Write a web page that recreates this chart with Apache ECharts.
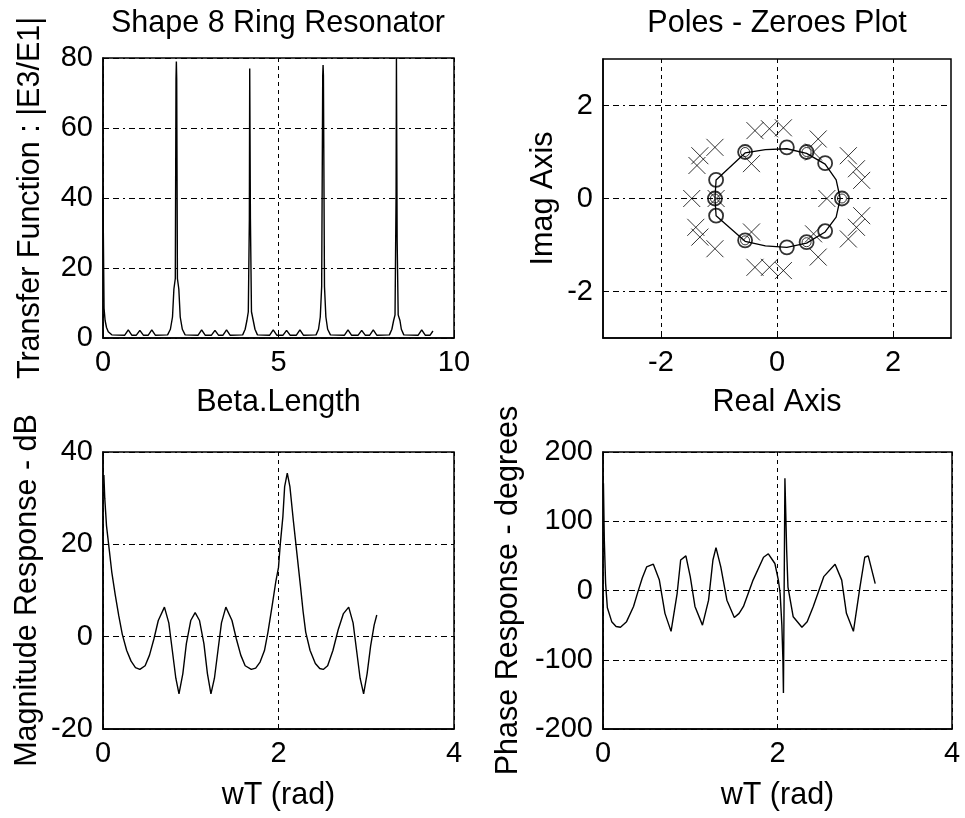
<!DOCTYPE html>
<html>
<head>
<meta charset="utf-8">
<script src="https://cdn.jsdelivr.net/npm/echarts@6/dist/echarts.min.js"></script>
<style>
  html, body { margin: 0; padding: 0; background: #fff; }
  #chart { width: 965px; height: 818px; }
</style>
</head>
<body>
<div id="chart"></div>
<script>
// transfer function |E3/E1| vs beta.length
var transferPts = [
  [0, 40], [0.02, 40], [0.03, 8.5], [0.06, 5], [0.1, 3], [0.15, 1.8], [0.25, 0.9],
  [0.62, 0.8], [0.72, 2.3], [0.82, 0.8], [0.95, 0.8], [1.05, 2.2], [1.15, 0.8], [1.29, 0.8], [1.39, 2.3], [1.49, 0.8],
  [1.84, 0.9], [1.92, 2.5], [1.98, 6], [2.02, 14], [2.06, 17], [2.08, 74], [2.09, 79], [2.1, 74], [2.12, 17], [2.16, 14], [2.2, 6], [2.26, 2.5], [2.34, 0.9],
  [2.71, 0.8], [2.81, 2.3], [2.91, 0.8], [3.09, 0.8], [3.19, 2.2], [3.29, 0.8], [3.42, 0.8], [3.52, 2.3], [3.62, 0.8],
  [3.98, 0.9], [4.05, 2.5], [4.1, 5], [4.14, 7.5], [4.17, 34], [4.18, 77], [4.19, 77], [4.2, 34], [4.23, 7.5], [4.28, 5], [4.33, 2.5], [4.4, 0.9],
  [4.75, 0.8], [4.85, 2.3], [4.95, 0.8], [5.13, 0.8], [5.23, 2.2], [5.33, 0.8], [5.51, 0.8], [5.61, 2.3], [5.71, 0.8],
  [6.07, 0.9], [6.14, 2.5], [6.19, 6], [6.23, 14.7], [6.26, 75], [6.27, 78], [6.28, 75], [6.31, 14.7], [6.35, 6], [6.4, 2.5], [6.48, 0.9],
  [6.88, 0.8], [6.98, 2.3], [7.08, 0.8], [7.27, 0.8], [7.37, 2.2], [7.47, 0.8], [7.6, 0.8], [7.7, 2.3], [7.8, 0.8],
  [8.16, 0.9], [8.23, 2.5], [8.28, 5], [8.32, 6.6], [8.35, 41], [8.36, 80], [8.37, 80], [8.38, 28], [8.41, 6.6], [8.46, 5], [8.5, 2.5], [8.57, 0.9],
  [8.98, 0.8], [9.08, 2.3], [9.18, 0.8], [9.32, 0.8], [9.4, 2]
];

// poles (x) and zeroes (o) in the z-plane
var polePts = [
  [-0.38, 1.46], [-0.13, 1.5], [0.11, 1.52], [0.71, 1.28], [-1.07, 1.1], [-1.33, 0.92], [-1.38, 0.71],
  [-0.44, 0.75], [1.23, 0.92], [1.37, 0.64], [1.46, 0.39], [0.63, 1.0],
  [-1.47, 0], [0.86, 0], [-1.05, 0],
  [-0.38, -1.48], [-0.13, -1.48], [0.11, -1.55], [0.71, -1.26], [-1.07, -1.08], [-1.33, -0.83], [-1.4, -0.62],
  [-0.44, -0.72], [1.23, -0.87], [1.37, -0.62], [1.46, -0.37], [0.63, -0.76]
];
var zeroPts = [
  [-0.55, 1.0], [-1.05, 0.4], [-1.07, 0], [-1.05, -0.37], [-0.55, -0.9], [0.17, -1.05],
  [0.51, -0.94], [0.83, -0.7], [1.12, 0], [0.83, 0.76], [0.51, 1.0], [0.17, 1.1]
];
var doubleZeroPts = [
  [-0.55, 1.0], [-1.07, 0], [-0.55, -0.9], [0.51, -0.94], [1.12, 0], [0.51, 1.0]
];
var circlePts = [
  [1.09, 0], [1.02, 0.4], [0.83, 0.74], [0.51, 0.97], [0.17, 1.07], [-0.2, 1.05], [-0.55, 0.98],
  [-1.05, 0.4], [-1.07, 0], [-1.05, -0.37], [-0.55, -0.92], [-0.2, -1.02], [0.17, -1.05],
  [0.51, -0.96], [0.83, -0.72], [1.02, -0.4], [1.09, 0]
];

// magnitude response (dB) vs wT
var magPts = [
  [0.01, 35], [0.02, 30], [0.04, 24], [0.07, 19], [0.1, 14], [0.14, 9], [0.18, 4.5], [0.22, 0.5],
  [0.27, -3], [0.32, -5.3], [0.37, -6.7], [0.42, -7.1], [0.48, -6.3], [0.53, -4], [0.58, -0.5], [0.63, 3.5],
  [0.7, 6.4], [0.75, 3], [0.79, -3], [0.83, -9], [0.866, -12.4], [0.91, -8], [0.95, -1.5], [1.0, 3.5],
  [1.05, 5.2], [1.1, 3.5], [1.15, -1.5], [1.19, -8], [1.23, -12.4], [1.27, -9], [1.31, -3], [1.35, 3],
  [1.4, 6.4], [1.47, 3.5], [1.52, -0.5], [1.57, -4], [1.62, -6.3], [1.69, -7.1], [1.74, -6.8], [1.79, -5.5],
  [1.84, -3], [1.88, 1], [1.93, 7], [1.97, 12], [2.0, 15], [2.02, 20], [2.05, 26], [2.07, 32.5],
  [2.1, 35.4], [2.13, 32.5], [2.17, 25], [2.21, 18], [2.25, 11], [2.28, 5.5], [2.31, 1], [2.36, -3],
  [2.42, -5.8], [2.47, -6.9], [2.51, -7.1], [2.56, -6.3], [2.62, -3], [2.68, 1.5], [2.74, 5], [2.8, 6.4],
  [2.85, 3], [2.89, -3], [2.93, -9], [2.97, -12.4], [3.01, -8], [3.05, -2], [3.09, 2.5], [3.12, 4.7]
];

// phase response (degrees) vs wT
var phasePts = [
  [0.005, 155], [0.015, 73], [0.03, 10], [0.05, -25], [0.1, -45], [0.15, -52], [0.2, -53],
  [0.27, -45], [0.35, -23], [0.4, -2], [0.45, 18], [0.5, 34], [0.577, 38],
  [0.646, 15], [0.71, -33], [0.78, -59], [0.85, -4], [0.89, 44], [0.95, 50],
  [1.0, 20], [1.054, -23], [1.14, -50], [1.21, -14], [1.26, 44], [1.295, 62],
  [1.35, 34], [1.42, -14], [1.505, -39], [1.56, -33], [1.61, -23], [1.72, 15], [1.84, 48], [1.895, 53],
  [1.97, 39], [2.01, 15], [2.03, -4], [2.05, -50], [2.062, -100], [2.068, -148], [2.085, 162],
  [2.095, 110], [2.105, 58], [2.12, 5], [2.18, -38], [2.28, -53],
  [2.34, -45], [2.41, -23], [2.53, 20], [2.66, 38], [2.736, 15], [2.79, -33], [2.87, -59],
  [2.945, 5], [3.0, 48], [3.04, 50], [3.12, 10]
];

var FONT = '"Liberation Sans", Arial, sans-serif';
var FS = 29;     // tick labels
var NFS = 30.5;  // titles and axis names

function makeAxis(gridIndex, min, max, interval, name, nameGap, dash, custom) {
  var ax = {
    gridIndex: gridIndex,
    type: 'value',
    min: min,
    max: max,
    name: name,
    nameLocation: 'middle',
    nameGap: nameGap,
    nameTextStyle: { color: '#000', fontSize: NFS, fontFamily: FONT },
    axisLine: { show: true, onZero: false, lineStyle: { color: '#000', width: 1.5 } },
    axisTick: { show: true, inside: true, length: 5, lineStyle: { color: '#000', width: 1 } },
    axisLabel: { color: '#000', fontSize: FS, fontFamily: FONT, margin: 10 },
    splitLine: { show: true, lineStyle: { color: '#000', width: 1, type: dash } }
  };
  if (custom) {
    ax.axisTick.customValues = custom;
    ax.axisLabel.customValues = custom;
  } else {
    ax.interval = interval;
  }
  return ax;
}

var HDASH = [6, 4, 6, 4, 2, 4];
var VDASH = [4, 4];

var option = {
  backgroundColor: '#fff',
  animation: false,
  graphic: [
    { type: 'text', x: 278, y: 24, style: { text: 'Shape 8 Ring Resonator', fill: '#000', font: NFS + 'px ' + FONT, align: 'center', verticalAlign: 'middle' } },
    { type: 'text', x: 777, y: 24, style: { text: 'Poles - Zeroes Plot', fill: '#000', font: NFS + 'px ' + FONT, align: 'center', verticalAlign: 'middle' } }
  ],
  grid: [
    { left: 103, top: 58, width: 351, height: 280, show: true, borderColor: '#000', borderWidth: 1.5 },
    { left: 603, top: 59, width: 348, height: 279, show: true, borderColor: '#000', borderWidth: 1.5 },
    { left: 103, top: 452, width: 351, height: 277, show: true, borderColor: '#000', borderWidth: 1.5 },
    { left: 603, top: 452, width: 349, height: 277, show: true, borderColor: '#000', borderWidth: 1.5 }
  ],
  xAxis: [
    makeAxis(0, 0, 10, 5, 'Beta.Length', 49, VDASH),
    makeAxis(1, -3, 3, null, 'Real Axis', 49, VDASH, [-2, 0, 2]),
    makeAxis(2, 0, 4, 2, 'wT (rad)', 51, VDASH),
    makeAxis(3, 0, 4, 2, 'wT (rad)', 51, VDASH)
  ],
  yAxis: [
    makeAxis(0, 0, 80, 20, 'Transfer Function : |E3/E1|', 57, HDASH),
    makeAxis(1, -3, 3, null, 'Imag Axis', 44, HDASH, [-2, 0, 2]),
    makeAxis(2, -20, 40, 20, 'Magnitude Response - dB', 60, HDASH),
    makeAxis(3, -200, 200, 100, 'Phase Response - degrees', 79, HDASH)
  ],
  series: [
    {
      type: 'line', xAxisIndex: 0, yAxisIndex: 0, data: transferPts,
      showSymbol: false, lineStyle: { color: '#000', width: 1.4 }
    },
    {
      type: 'line', xAxisIndex: 1, yAxisIndex: 1, data: circlePts,
      showSymbol: false, lineStyle: { color: '#000', width: 1.3 }
    },
    {
      type: 'scatter', xAxisIndex: 1, yAxisIndex: 1, data: polePts,
      symbol: 'path://M0,0L10,10M10,0L0,10', symbolSize: 17,
      itemStyle: { color: 'transparent', borderColor: '#000', borderWidth: 1 }
    },
    {
      type: 'scatter', xAxisIndex: 1, yAxisIndex: 1, data: zeroPts,
      symbol: 'circle', symbolSize: 14,
      itemStyle: { color: 'transparent', borderColor: '#000', borderWidth: 1.8 }
    },
    {
      type: 'scatter', xAxisIndex: 1, yAxisIndex: 1, data: doubleZeroPts,
      symbol: 'circle', symbolSize: 9,
      itemStyle: { color: 'transparent', borderColor: '#000', borderWidth: 1 }
    },
    {
      type: 'line', xAxisIndex: 2, yAxisIndex: 2, data: magPts,
      showSymbol: false, lineStyle: { color: '#000', width: 1.4 }
    },
    {
      type: 'line', xAxisIndex: 3, yAxisIndex: 3, data: phasePts,
      showSymbol: false, lineStyle: { color: '#000', width: 1.4 }
    }
  ]
};

var chart = echarts.init(document.getElementById('chart'), null, { renderer: 'canvas' });
chart.setOption(option);
</script>
</body>
</html>
